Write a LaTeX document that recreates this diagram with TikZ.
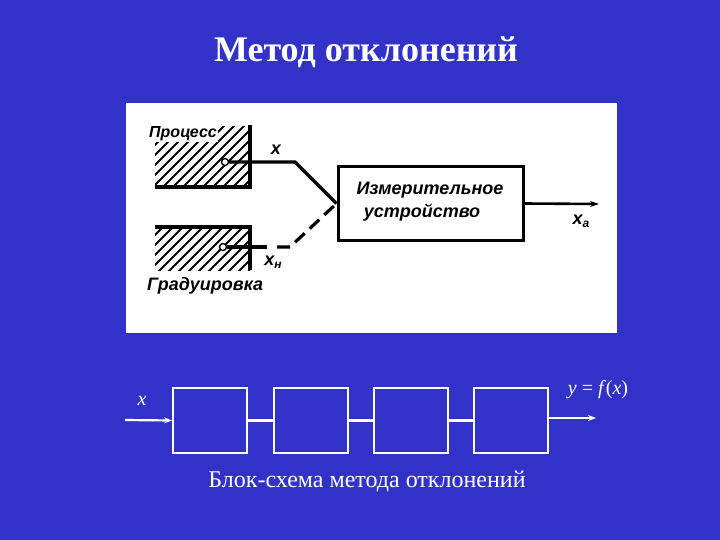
\documentclass[tikz,border=0pt]{standalone}
\usepackage{fontspec}
\setmainfont{Liberation Serif}
\newfontfamily\tech{Liberation Sans}
\usetikzlibrary{arrows.meta}
\definecolor{bg}{RGB}{50,50,200}
\tikzset{
  techtxt/.style={inner sep=0pt, font=\tech\bfseries\itshape\fontsize{18}{20}\selectfont, text=black},
  blk/.style={draw=white, line width=2pt, minimum width=74pt, minimum height=65pt, inner sep=0pt},
  wline/.style={draw=white, line width=2.2pt},
  thick2/.style={line width=3.2pt, black},
  hatch/.style={line width=1.8pt, black},
  port/.style={circle, draw=black, fill=white, line width=1.4pt, minimum size=7pt, inner sep=0pt}
}
\begin{document}
\begin{tikzpicture}[x=1pt,y=-1pt]
\fill[bg] (0,0) rectangle (720,540);
\useasboundingbox (0,0) rectangle (720,540);
% title
\node[text=white, font=\bfseries\fontsize{36}{40}\selectfont, inner sep=0pt] (title) at (366,52) {Метод отклонений};
% white panel
\fill[white] (126,103) rectangle (617,333);
% Process hatching
\begin{scope}
\clip (155,127) rectangle (250,187);
\foreach \i in {0,10,...,200} {\draw[hatch] (60+\i,200) -- (60+\i+80,120);}
\end{scope}
\draw[thick2] (250,125) -- (250,187) -- (155,187);
\node[techtxt, fill=white, inner sep=1pt, anchor=south west, font=\tech\bfseries\itshape\fontsize{16}{18}\selectfont] (proc) at (148,142) {Процесс};
% Graduation hatching
\begin{scope}
\clip (155,227) rectangle (250,270);
\foreach \i in {0,10,...,200} {\draw[hatch] (60+\i,280) -- (60+\i+60,220);}
\end{scope}
\draw[thick2] (155,227) -- (250,227) -- (250,270);
\node[techtxt, anchor=north west] (grad) at (147,277) {Градуировка};
% device
\node[draw=black, line width=3pt, minimum width=185pt, minimum height=73pt, inner sep=0pt] (dev) at (430.5,203.5) {};
\node[techtxt] (dl1) at (430,190) {Измерительное};
\node[techtxt] (dl2) at (422,213) {устройство};
% ports
\node[port] (p1) at (225,162) {};
\node[port] (p2) at (223,247) {};
\coordinate (k1) at (295,162);
\coordinate (k2) at (290,247);
\coordinate (g2) at (267,247);
\coordinate (d2) at (277,247);
\draw[thick2] (p1) -- (k1) -- (dev.west);
\draw[thick2] (p2) -- (g2);
\draw[thick2, dash pattern=on 13pt off 7pt] (d2) -- (k2) -- (dev.west);
\node[techtxt] (lx) at (276,150) {x};
\node[techtxt] (lxn) at (273,262) {x\raisebox{-3pt}{\fontsize{12}{12}\selectfont н}};
\coordinate (out) at (599,204);
\draw[thick2, line width=2.6pt, -{Stealth[length=9pt,width=6pt]}] (dev.east) -- (out);
\node[techtxt] (lxa) at (581,221) {x\raisebox{-3pt}{\fontsize{12}{12}\selectfont a}};
% bottom block diagram
\node[blk] (b1) at (210,420.5) {};
\node[blk] (b2) at (310.5,420.5) {};
\node[blk] (b3) at (411,420.5) {};
\node[blk] (b4) at (511,420.5) {};
\coordinate (in) at (125,420);
\coordinate (o2) at (596,418);
\draw[wline, -{Stealth[length=8pt,width=6pt]}] (in) -- (b1.west);
\draw[wline] (b1.east) -- (b2.west);
\draw[wline] (b2.east) -- (b3.west);
\draw[wline] (b3.east) -- (b4.west);
\draw[wline, -{Stealth[length=8pt,width=6pt]}] (b4.east |- o2) -- (o2);
\node[text=white, font=\itshape\fontsize{20}{22}\selectfont, inner sep=0pt] (lbx) at (142,401) {x};
\node[text=white, font=\fontsize{20}{22}\selectfont, inner sep=0pt] (lby) at (598,390) {\textit{y} = \textit{f}(\textit{x})};
\node[text=white, font=\fontsize{24}{26}\selectfont, inner sep=0pt] (cap) at (367,482) {Блок-схема метода отклонений};
\end{tikzpicture}
\end{document}
